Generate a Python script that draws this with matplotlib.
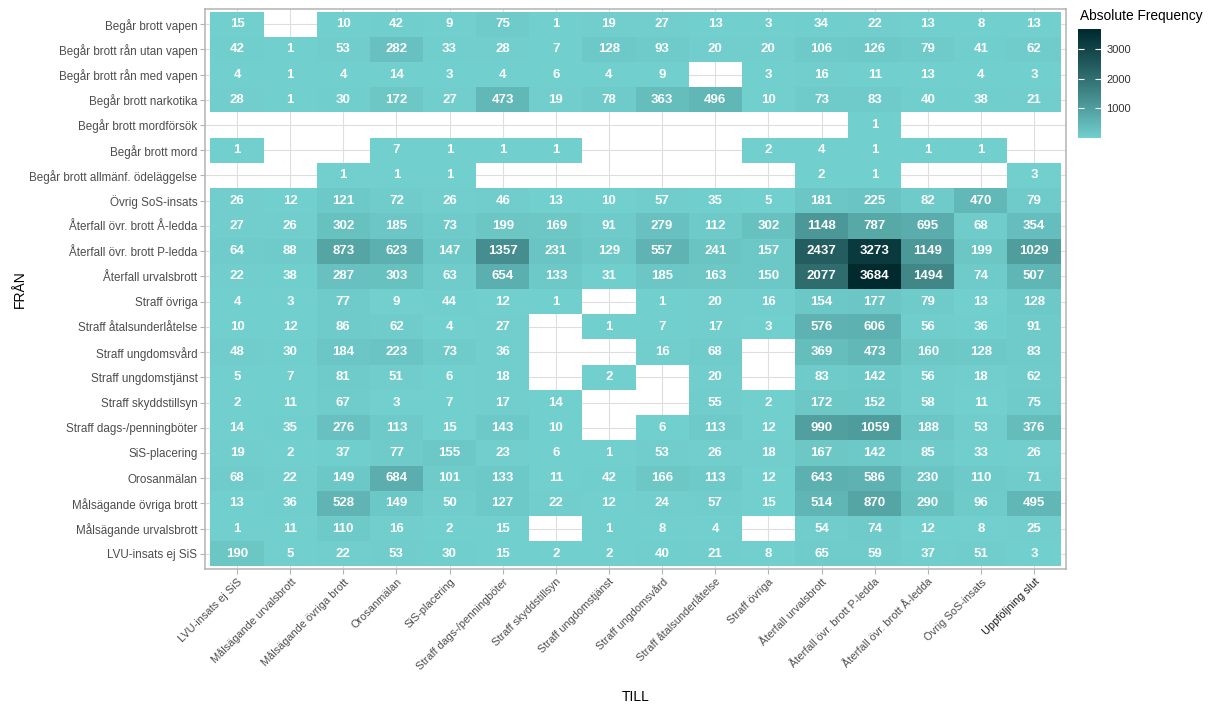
import numpy as np
import matplotlib
matplotlib.use("Agg")
import matplotlib.pyplot as plt
from matplotlib.colors import ListedColormap, Normalize, to_rgb

nan = np.nan

# FRÅN (rows, top to bottom)
from_labels = [
    "Begår brott vapen", "Begår brott rån utan vapen", "Begår brott rån med vapen",
    "Begår brott narkotika", "Begår brott mordförsök", "Begår brott mord",
    "Begår brott allmänf. ödeläggelse", "Övrig SoS-insats",
    "Återfall övr. brott Å-ledda", "Återfall övr. brott P-ledda",
    "Återfall urvalsbrott", "Straff övriga", "Straff åtalsunderlåtelse",
    "Straff ungdomsvård", "Straff ungdomstjänst", "Straff skyddstillsyn",
    "Straff dags-/penningböter", "SiS-placering", "Orosanmälan",
    "Målsägande övriga brott", "Målsägande urvalsbrott", "LVU-insats ej SiS",
]

# TILL (columns, left to right)
to_labels = [
    "LVU-insats ej SiS", "Målsägande urvalsbrott", "Målsägande övriga brott",
    "Orosanmälan", "SiS-placering", "Straff dags-/penningböter",
    "Straff skyddstillsyn", "Straff ungdomstjänst", "Straff ungdomsvård",
    "Straff åtalsunderlåtelse", "Straff övriga", "Återfall urvalsbrott",
    "Återfall övr. brott P-ledda", "Återfall övr. brott Å-ledda",
    "Övrig SoS-insats", "Uppföljning slut",
]

counts = np.array([
    [15, nan, 10, 42, 9, 75, 1, 19, 27, 13, 3, 34, 22, 13, 8, 13],
    [42, 1, 53, 282, 33, 28, 7, 128, 93, 20, 20, 106, 126, 79, 41, 62],
    [4, 1, 4, 14, 3, 4, 6, 4, 9, nan, 3, 16, 11, 13, 4, 3],
    [28, 1, 30, 172, 27, 473, 19, 78, 363, 496, 10, 73, 83, 40, 38, 21],
    [nan, nan, nan, nan, nan, nan, nan, nan, nan, nan, nan, nan, 1, nan, nan, nan],
    [1, nan, nan, 7, 1, 1, 1, nan, nan, nan, 2, 4, 1, 1, 1, nan],
    [nan, nan, 1, 1, 1, nan, nan, nan, nan, nan, nan, 2, 1, nan, nan, 3],
    [26, 12, 121, 72, 26, 46, 13, 10, 57, 35, 5, 181, 225, 82, 470, 79],
    [27, 26, 302, 185, 73, 199, 169, 91, 279, 112, 302, 1148, 787, 695, 68, 354],
    [64, 88, 873, 623, 147, 1357, 231, 129, 557, 241, 157, 2437, 3273, 1149, 199, 1029],
    [22, 38, 287, 303, 63, 654, 133, 31, 185, 163, 150, 2077, 3684, 1494, 74, 507],
    [4, 3, 77, 9, 44, 12, 1, nan, 1, 20, 16, 154, 177, 79, 13, 128],
    [10, 12, 86, 62, 4, 27, nan, 1, 7, 17, 3, 576, 606, 56, 36, 91],
    [48, 30, 184, 223, 73, 36, nan, nan, 16, 68, nan, 369, 473, 160, 128, 83],
    [5, 7, 81, 51, 6, 18, nan, 2, nan, 20, nan, 83, 142, 56, 18, 62],
    [2, 11, 67, 3, 7, 17, 14, nan, nan, 55, 2, 172, 152, 58, 11, 75],
    [14, 35, 276, 113, 15, 143, 10, nan, 6, 113, 12, 990, 1059, 188, 53, 376],
    [19, 2, 37, 77, 155, 23, 6, 1, 53, 26, 18, 167, 142, 85, 33, 26],
    [68, 22, 149, 684, 101, 133, 11, 42, 166, 113, 12, 643, 586, 230, 110, 71],
    [13, 36, 528, 149, 50, 127, 22, 12, 24, 57, 15, 514, 870, 290, 96, 495],
    [1, 11, 110, 16, 2, 15, nan, 1, 8, 4, nan, 54, 74, 12, 8, 25],
    [190, 5, 22, 53, 30, 15, 2, 2, 40, 21, 8, 65, 59, 37, 51, 3],
])

cbar_ticks = [1000, 2000, 3000]


# gradient interpolated in Lab space, like ggplot's scale_fill_gradient
def srgb_to_lab(rgb):
    c = np.array(rgb, dtype=float)
    c = np.where(c > 0.04045, ((c + 0.055) / 1.055) ** 2.4, c / 12.92)
    m = np.array([[0.4124, 0.3576, 0.1805], [0.2126, 0.7152, 0.0722], [0.0193, 0.1192, 0.9505]])
    xyz = m @ c / np.array([0.95047, 1.0, 1.08883])
    f = np.where(xyz > 0.008856, np.cbrt(xyz), 7.787 * xyz + 16 / 116)
    return np.array([116 * f[1] - 16, 500 * (f[0] - f[1]), 200 * (f[1] - f[2])])


def lab_to_srgb(lab):
    fy = (lab[1 - 1] + 16) / 116
    fx = fy + lab[1] / 500
    fz = fy - lab[2] / 200
    f = np.array([fx, fy, fz])
    xyz = np.where(f ** 3 > 0.008856, f ** 3, (f - 16 / 116) / 7.787) * np.array([0.95047, 1.0, 1.08883])
    m = np.array([[3.2406, -1.5372, -0.4986], [-0.9689, 1.8758, 0.0415], [0.0557, -0.2040, 1.0570]])
    c = m @ xyz
    c = np.where(c > 0.0031308, 1.055 * np.abs(c) ** (1 / 2.4) - 0.055, 12.92 * c)
    return np.clip(c, 0, 1)


lo = srgb_to_lab(to_rgb("#71CFCD"))
hi = srgb_to_lab(to_rgb("#002A2E"))
colors = [lab_to_srgb(lo + (hi - lo) * t) for t in np.linspace(0, 1, 256)]
cmap = ListedColormap(colors)
cmap.set_bad((1, 1, 1, 0))
norm = Normalize(vmin=np.nanmin(counts), vmax=np.nanmax(counts))

plt.rcParams['font.family'] = ['Liberation Sans', 'DejaVu Sans']

fig = plt.figure(figsize=(12.21, 7.08), dpi=100)
ax = fig.add_axes([0.168, 0.1963, 0.705, 0.791])

n_rows, n_cols = counts.shape
for i in range(n_cols):
    ax.axvline(i, color="#DEDEDE", lw=0.8, zorder=0)
for j in range(n_rows):
    ax.axhline(j, color="#DEDEDE", lw=0.8, zorder=0)

masked = np.ma.masked_invalid(counts)
ax.pcolormesh(np.arange(n_cols + 1) - 0.5, np.arange(n_rows + 1) - 0.5, masked,
              cmap=cmap, norm=norm, zorder=1)

for r in range(n_rows):
    for c in range(n_cols):
        v = counts[r, c]
        if not np.isnan(v):
            ax.text(c, r, f"{int(v)}", ha="center", va="center", color="white",
                    fontsize=9.5, fontweight="bold", zorder=2)

ax.set_xlim(-0.6, n_cols - 0.4)
ax.set_ylim(n_rows - 0.4, -0.6)
ax.set_xticks(range(n_cols))
ax.set_xticklabels(to_labels, rotation=45, ha="right", rotation_mode="anchor",
                   fontsize=7.9, color="#4D4D4D")
ax.get_xticklabels()[-1].set_color("#1A1A1A")
ax.set_yticks(range(n_rows))
ax.set_yticklabels(from_labels, fontsize=8.4, color="#4D4D4D")
ax.tick_params(axis="both", length=3.5, color="#B3B3B3", width=0.8, pad=2)
for s in ax.spines.values():
    s.set_color("#B3B3B3")
    s.set_linewidth(1.1)

ax.set_xlabel("TILL", fontsize=10)
ax.set_ylabel("FRÅN", fontsize=10)
ax.xaxis.set_label_coords(0.5, -0.216)
ax.yaxis.set_label_coords(-0.207, 0.5)

# colour legend
cax = fig.add_axes([0.8829, 0.8055, 0.0188, 0.1531])
cb = fig.colorbar(plt.cm.ScalarMappable(norm=norm, cmap=cmap), cax=cax, ticks=cbar_ticks)
cb.outline.set_visible(False)
cax.tick_params(direction="in", left=True, right=True, labelleft=False, labelright=True,
                color="white", length=4, width=0.8, labelsize=8, labelcolor="#333333", pad=4)
fig.text(0.8845, 0.978, "Absolute Frequency", fontsize=9.9, va="center", ha="left")

fig.savefig("out.png", dpi=100)
